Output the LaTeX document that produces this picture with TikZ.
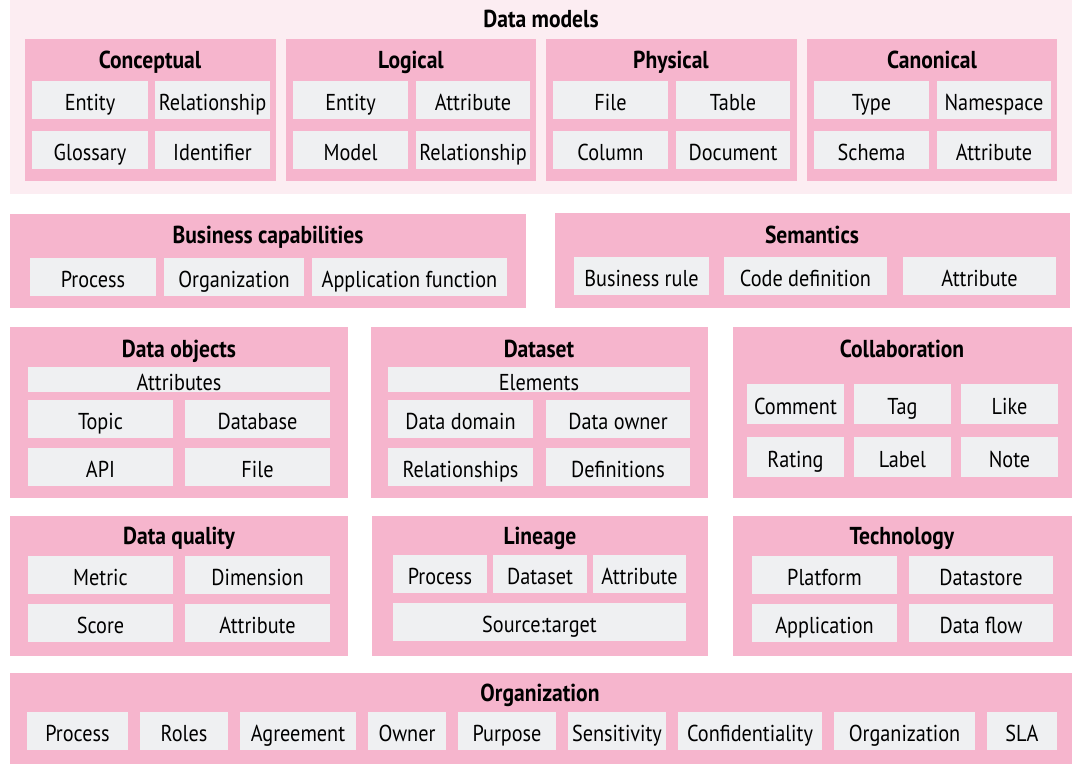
\documentclass[tikz,border=0pt]{standalone}
\usepackage{fontspec}
\setmainfont{PT Sans}[FakeStretch=0.88]
\definecolor{modelbg}{HTML}{FCEDF2}
\definecolor{grouppink}{HTML}{F6B5CD}
\definecolor{itemgray}{HTML}{EFF0F2}
\tikzset{
  panel/.style={fill=grouppink, anchor=north west, inner sep=0pt, outer sep=0pt},
  item/.style={fill=itemgray, anchor=north west, inner sep=0pt, outer sep=0pt, minimum height=38,
    text height=21, text depth=0, font=\fontsize{23}{26}\selectfont},
  heading/.style={font=\fontsize{24.5}{26}\selectfont\bfseries, inner sep=0pt, text height=17, text depth=0}
}
\begin{document}
\begin{tikzpicture}[x=1pt, y=-1pt]
  \useasboundingbox (0,0) rectangle (1080,779);
  % data models
  \node[panel, fill=modelbg, minimum width=1062, minimum height=194] (models) at (10,0) {};
  \node[heading] (tmodels) at (541,19) {Data models};
  \node[panel, minimum width=251, minimum height=142] (concept) at (25,39) {};
  \node[heading] (tconcept) at (150,60) {Conceptual};
  \node[item, minimum width=116] (c1) at (32,81) {Entity};
  \node[item, minimum width=115] (c2) at (155,81) {Relationship};
  \node[item, minimum width=116] (c3) at (32,131) {Glossary};
  \node[item, minimum width=115] (c4) at (155,131) {Identifier};
  \node[panel, minimum width=250, minimum height=142] (logic) at (286,39) {};
  \node[heading] (tlogic) at (411,60) {Logical};
  \node[item, minimum width=115] (l1) at (293,81) {Entity};
  \node[item, minimum width=114] (l2) at (416,81) {Attribute};
  \node[item, minimum width=115] (l3) at (293,131) {Model};
  \node[item, minimum width=114] (l4) at (416,131) {Relationship};
  \node[panel, minimum width=251, minimum height=142] (phys) at (546,39) {};
  \node[heading] (tphys) at (671,60) {Physical};
  \node[item, minimum width=115] (p1) at (553,81) {File};
  \node[item, minimum width=114] (p2) at (676,81) {Table};
  \node[item, minimum width=115] (p3) at (553,131) {Column};
  \node[item, minimum width=114] (p4) at (676,131) {Document};
  \node[panel, minimum width=250, minimum height=142] (canon) at (807,39) {};
  \node[heading] (tcanon) at (932,60) {Canonical};
  \node[item, minimum width=115] (k1) at (814,81) {Type};
  \node[item, minimum width=114] (k2) at (937,81) {Namespace};
  \node[item, minimum width=115] (k3) at (814,131) {Schema};
  \node[item, minimum width=114] (k4) at (937,131) {Attribute};
  % business capabilities and semantics
  \node[panel, minimum width=516, minimum height=94] (busi) at (10,214) {};
  \node[heading] (tbusi) at (268,235) {Business capabilities};
  \node[item, minimum width=126] (b1) at (30,258) {Process};
  \node[item, minimum width=140] (b2) at (164,258) {Organization};
  \node[item, minimum width=195] (b3) at (312,258) {Application function};
  \node[panel, minimum width=515, minimum height=95] (sem) at (555,213) {};
  \node[heading] (tsem) at (812,235) {Semantics};
  \node[item, minimum width=135] (s1) at (574,257) {Business rule};
  \node[item, minimum width=163] (s2) at (724,257) {Code definition};
  \node[item, minimum width=153] (s3) at (903,257) {Attribute};
  % data objects, dataset, collaboration
  \node[panel, minimum width=338, minimum height=171] (obj) at (10,327) {};
  \node[heading] (tobj) at (179,349) {Data objects};
  \node[item, minimum width=302, minimum height=25] (o0) at (28,367) {Attributes};
  \node[item, minimum width=145] (o1) at (28,400) {Topic};
  \node[item, minimum width=145] (o2) at (185,400) {Database};
  \node[item, minimum width=145] (o3) at (28,448) {API};
  \node[item, minimum width=145] (o4) at (185,448) {File};
  \node[panel, minimum width=337, minimum height=171] (dset) at (371,327) {};
  \node[heading] (tdset) at (539,349) {Dataset};
  \node[item, minimum width=302, minimum height=25] (d0) at (388,367) {Elements};
  \node[item, minimum width=145] (d1) at (388,400) {Data domain};
  \node[item, minimum width=144] (d2) at (546,400) {Data owner};
  \node[item, minimum width=145] (d3) at (388,448) {Relationships};
  \node[item, minimum width=144] (d4) at (546,448) {Definitions};
  \node[panel, minimum width=339, minimum height=171] (collab) at (733,327) {};
  \node[heading] (tcollab) at (902,349) {Collaboration};
  \node[item, minimum width=97, minimum height=40] (a1) at (747,384) {Comment};
  \node[item, minimum width=97, minimum height=40] (a2) at (854,384) {Tag};
  \node[item, minimum width=97, minimum height=40] (a3) at (961,384) {Like};
  \node[item, minimum width=97, minimum height=40] (a4) at (747,437) {Rating};
  \node[item, minimum width=97, minimum height=40] (a5) at (854,437) {Label};
  \node[item, minimum width=97, minimum height=40] (a6) at (961,437) {Note};
  % data quality, lineage, technology
  \node[panel, minimum width=338, minimum height=140] (qual) at (10,516) {};
  \node[heading] (tqual) at (179,536) {Data quality};
  \node[item, minimum width=145] (q1) at (28,556) {Metric};
  \node[item, minimum width=145] (q2) at (185,556) {Dimension};
  \node[item, minimum width=145] (q3) at (28,604) {Score};
  \node[item, minimum width=145] (q4) at (185,604) {Attribute};
  \node[panel, minimum width=336, minimum height=140] (lin) at (372,516) {};
  \node[heading] (tlin) at (540,536) {Lineage};
  \node[item, minimum width=94] (n1) at (393,555) {Process};
  \node[item, minimum width=94] (n2) at (493,555) {Dataset};
  \node[item, minimum width=93] (n3) at (593,555) {Attribute};
  \node[item, minimum width=293] (n4) at (393,603) {Source:target};
  \node[panel, minimum width=339, minimum height=140] (tech) at (733,516) {};
  \node[heading] (ttech) at (902,536) {Technology};
  \node[item, minimum width=145] (t1) at (752,556) {Platform};
  \node[item, minimum width=144] (t2) at (909,556) {Datastore};
  \node[item, minimum width=145] (t3) at (752,604) {Application};
  \node[item, minimum width=144] (t4) at (909,604) {Data flow};
  % organization
  \node[panel, minimum width=1062, minimum height=91] (org) at (10,673) {};
  \node[heading] (torg) at (540,693) {Organization};
  \node[item, minimum width=101] (g1) at (27,712) {Process};
  \node[item, minimum width=88] (g2) at (140,712) {Roles};
  \node[item, minimum width=116] (g3) at (240,712) {Agreement};
  \node[item, minimum width=78] (g4) at (368,712) {Owner};
  \node[item, minimum width=98] (g5) at (458,712) {Purpose};
  \node[item, minimum width=98] (g6) at (568,712) {Sensitivity};
  \node[item, minimum width=144] (g7) at (678,712) {Confidentiality};
  \node[item, minimum width=141] (g8) at (834,712) {Organization};
  \node[item, minimum width=70] (g9) at (987,712) {SLA};
\end{tikzpicture}
\end{document}
